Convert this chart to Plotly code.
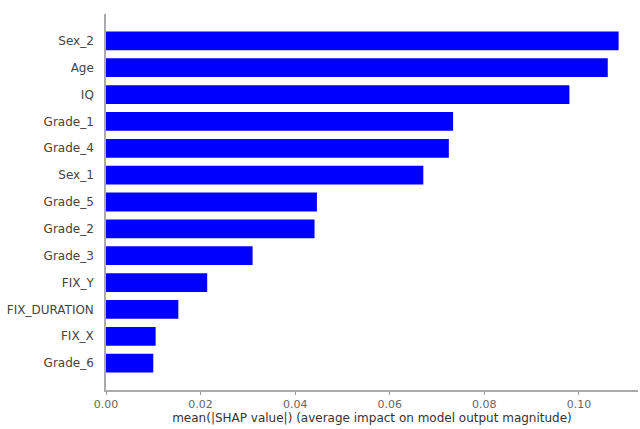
import plotly.graph_objects as go

# Features ordered from least to most important (bottom to top)
features = ["Grade_6", "FIX_X", "FIX_DURATION", "FIX_Y", "Grade_3", "Grade_2",
            "Grade_5", "Sex_1", "Grade_4", "Grade_1", "IQ", "Age", "Sex_2"]
mean_abs_shap = [0.0100, 0.0105, 0.0153, 0.0214, 0.0310, 0.0441,
                 0.0446, 0.0671, 0.0725, 0.0734, 0.0980, 0.1061, 0.1084]
x_ticks = [0.00, 0.02, 0.04, 0.06, 0.08, 0.10]
x_tick_labels = ["0.00", "0.02", "0.04", "0.06", "0.08", "0.10"]
x_title = "mean(|SHAP value|) (average impact on model output magnitude)"

positions = list(range(len(features)))

fig = go.Figure(
    go.Bar(
        x=mean_abs_shap,
        y=positions,
        orientation="h",
        width=0.7,
        marker=dict(color="#0000ff", line=dict(width=0)),
        hoverinfo="x+text",
        text=features,
        textposition="none",
    )
)

font_family = "DejaVu Sans, sans-serif"

fig.update_layout(
    width=640,
    height=429,
    margin=dict(l=106, r=2, t=14, b=39),
    paper_bgcolor="white",
    plot_bgcolor="white",
    showlegend=False,
    font=dict(family=font_family, size=11, color="#555555"),
    bargap=0.3,
)

fig.update_xaxes(
    range=[0, 0.1125],
    tickvals=x_ticks,
    ticktext=x_tick_labels,
    ticks="outside",
    ticklen=3,
    tickwidth=1,
    tickcolor="#999999",
    tickfont=dict(size=11, color="#666666"),
    showline=True,
    linecolor="#aaaaaa",
    linewidth=1.5,
    showgrid=False,
    zeroline=False,
    title=dict(text=x_title, font=dict(size=12, color="#333333"), standoff=3),
)

fig.update_yaxes(
    range=[-1, len(features)],
    tickvals=positions,
    ticktext=features,
    ticks="",
    ticklabelstandoff=8,
    tickfont=dict(size=12, color="#444444"),
    showline=True,
    linecolor="#aaaaaa",
    linewidth=1.5,
    showgrid=False,
    zeroline=False,
)

fig.write_html("out.html")
